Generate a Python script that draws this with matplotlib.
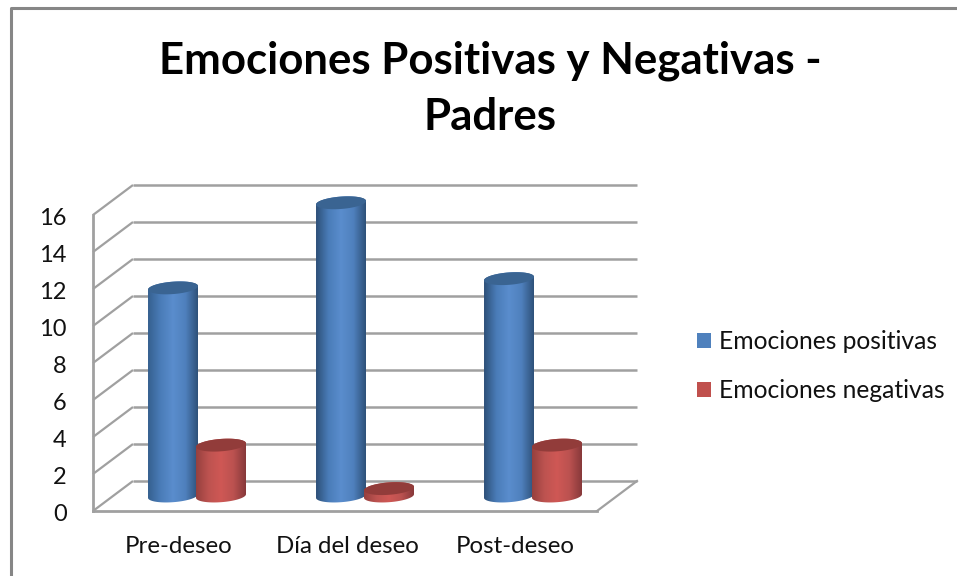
import matplotlib
matplotlib.use("Agg")
import matplotlib.pyplot as plt
import numpy as np
from matplotlib.colors import LinearSegmentedColormap
from matplotlib.lines import Line2D
from matplotlib.patches import Patch, Polygon
from matplotlib.transforms import ScaledTranslation

plt.rcParams['font.family'] = ['Lato', 'DejaVu Sans']

categorias = ['Pre-deseo', 'Día del deseo', 'Post-deseo']
positivas = [11.25, 15.85, 11.75]
negativas = [2.75, 0.4, 2.75]
ticks = [0, 2, 4, 6, 8, 10, 12, 14, 16]
titulo = 'Emociones Positivas y Negativas -\nPadres'
nombre_pos = 'Emociones positivas'
nombre_neg = 'Emociones negativas'

W, H = 957, 576
GRIS = '#a0a0a0'
# profundidad del piso 3D en unidades de datos
DX = 40 / 168
DY = 30 / 18.5
ANCHO = 50 / 168
SEP = 24 / 168
ELIPSE_B = 6.2 / 18.5
ELIPSE_K = 1.8 / 18.5

azul = LinearSegmentedColormap.from_list('azul', ['#35608f', '#4a7cb8', '#5a8dcd', '#4f80bd', '#2e5179'])
azul_oscuro = LinearSegmentedColormap.from_list('azul2', ['#2d5078', '#4a7cb8', '#5a8dcd', '#4f80bd', '#2e5179'])
rojo = LinearSegmentedColormap.from_list('rojo', ['#96403e', '#bd5350', '#cf5855', '#bb5250', '#87393a'])


def cilindro(ax, cx, valor, cmap, tapa, z):
    cy0 = DY / 2
    t = np.linspace(0, 2 * np.pi, 90)
    ex = ANCHO / 2 * np.cos(t)
    ey = ELIPSE_B * np.sin(t) + ELIPSE_K * np.cos(t)
    # silueta: media elipse de abajo + media elipse de arriba
    abajo = t >= np.pi
    arriba = t <= np.pi
    xs = np.r_[cx + ex[abajo], cx + ex[arriba]]
    ys = np.r_[cy0 + ey[abajo], cy0 + valor + ey[arriba]]
    cuerpo = Polygon(np.c_[xs, ys], closed=True, fc='none', ec='none', transform=ax.transData)
    ax.add_patch(cuerpo)
    grad = np.linspace(0, 1, 256).reshape(1, -1)
    im = ax.imshow(grad, cmap=cmap, aspect='auto', zorder=z,
                   extent=(cx - ANCHO / 2, cx + ANCHO / 2, cy0 - 1, cy0 + valor + 1))
    im.set_clip_path(cuerpo)
    im.set_clip_box(fig.bbox)
    ax.fill(cx + ex, cy0 + valor + ey, color=tapa, lw=0, zorder=z + 0.1, clip_on=False)


fig = plt.figure(figsize=(W / 100, H / 100), dpi=100, facecolor='white')
ax = fig.add_axes([93 / W, (H - 511) / H, 504 / W, 296 / H])
ax.patch.set_alpha(0)

x0, x1 = -0.5, 2.5
# paredes y rejilla
for v in ticks:
    ax.plot([x0, x0 + DX], [v, v + DY], color=GRIS, lw=1.6, clip_on=False, zorder=1, solid_capstyle='butt')
    ax.plot([x0 + DX, x1 + DX], [v + DY, v + DY], color=GRIS, lw=1.8, clip_on=False, zorder=1, solid_capstyle='butt')
ax.plot([x1, x1 + DX], [0, DY], color=GRIS, lw=1.6, clip_on=False, zorder=1)

pos = np.arange(len(categorias))
for i in pos:
    cm_a = azul if i == 0 else azul_oscuro
    cilindro(ax, i + DX / 2 - SEP, positivas[i], cm_a, '#3a6492', 3)
    cilindro(ax, i + DX / 2 + SEP, negativas[i], rojo, '#923c3a', 4)

ax.set_xlim(x0, x1)
ax.set_ylim(0, 16)
ax.set_xticks(pos)
ax.set_xticklabels(categorias, fontsize=17.3, color='#111111')
ax.set_yticks(ticks)
ax.set_yticklabels([str(v) for v in ticks], fontsize=17, color='#111111')
ax.tick_params(axis='x', length=0, pad=18)
ax.tick_params(axis='y', length=0, pad=19)
for lab in ax.get_yticklabels():
    lab.set_transform(lab.get_transform() + ScaledTranslation(0, -1 / 72, fig.dpi_scale_trans))
for lab in ax.get_xticklabels():
    lab.set_transform(lab.get_transform() + ScaledTranslation(1.5 / 72, 0, fig.dpi_scale_trans))
for lado in ['top', 'right']:
    ax.spines[lado].set_visible(False)
for lado in ['left', 'bottom']:
    ax.spines[lado].set_color(GRIS)
    ax.spines[lado].set_linewidth(2)

# marco del grafico, se sale por la derecha y abajo
fig.add_artist(Line2D([10.5 / W, 10.5 / W, 1], [0, 1 - 7.5 / H, 1 - 7.5 / H], color='#868686', lw=2.2))

fig.text(490 / W, 1 - 89 / H, titulo, ha='center', va='center', fontsize=31.5, fontweight='bold',
         color='black', linespacing=1.49)

asas = [Patch(fc='#4f81bd', ec='none', label=nombre_pos), Patch(fc='#c0504d', ec='none', label=nombre_neg)]
fig.legend(handles=asas, loc='center left', bbox_to_anchor=(675 / W, 1 - 366 / H), frameon=False,
           fontsize=17.7, handlelength=0.57, handleheight=0.57, handletextpad=0.33, labelspacing=1.05,
           labelcolor='#111111')

fig.savefig('out.png', dpi=100)
